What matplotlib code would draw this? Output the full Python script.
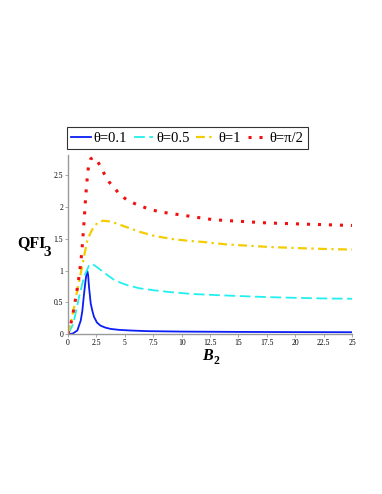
import matplotlib
matplotlib.use("Agg")
import matplotlib.pyplot as plt

# theta = 0.1 (blue, solid)
x_01 = [0, 0.4, 0.82, 1.12, 1.26, 1.41, 1.55, 1.62, 1.7, 1.77, 1.85, 2.0, 2.15, 2.29, 2.55, 2.88, 3.3, 3.76, 4.5, 5.5, 7, 10, 15, 20, 25]
y_01 = [0, 0.005, 0.055, 0.21, 0.36, 0.63, 0.85, 0.94, 0.99, 0.93, 0.74, 0.48, 0.36, 0.27, 0.18, 0.13, 0.10, 0.08, 0.065, 0.055, 0.045, 0.038, 0.033, 0.03, 0.028]

# theta = 0.5 (cyan, dashed)
x_05 = [0, 0.47, 0.97, 1.41, 1.85, 2.14, 2.58, 3.0, 3.46, 4.0, 4.6, 5.2, 6.3, 7.5, 9, 11, 13.4, 15.5, 17.8, 20, 22.5, 25]
y_05 = [0, 0.16, 0.58, 0.9, 1.08, 1.105, 1.05, 0.99, 0.93, 0.86, 0.81, 0.77, 0.72, 0.69, 0.66, 0.63, 0.61, 0.595, 0.58, 0.57, 0.56, 0.555]

# theta = 1 (gold, dash-dot)
x_1 = [0, 0.4, 0.82, 1.26, 1.5, 1.7, 1.9, 2.14, 2.58, 3.1, 3.6, 4.3, 5.2, 6.3, 7.5, 9, 10.5, 11.9, 14, 16, 17.8, 20, 22.5, 25]
y_1 = [0, 0.3, 0.69, 1.08, 1.3, 1.47, 1.56, 1.65, 1.75, 1.785, 1.775, 1.74, 1.68, 1.61, 1.55, 1.50, 1.47, 1.45, 1.41, 1.39, 1.37, 1.355, 1.34, 1.33]

# theta = pi/2 (red, dotted)
x_pi2 = [0, 0.18, 0.35, 0.5, 0.65, 0.8, 0.92, 1.02, 1.12, 1.22, 1.3, 1.37, 1.43, 1.49, 1.55, 1.63, 1.71, 1.8, 2.0, 2.25, 2.49, 2.88, 3.23, 3.64, 4.14, 4.58, 5.3, 6.05, 6.8, 7.5, 8.25, 9.0, 12.8, 17.5, 21, 25]
y_pi2 = [0, 0.12, 0.24, 0.38, 0.54, 0.70, 0.84, 0.98, 1.12, 1.30, 1.50, 1.66, 1.82, 1.98, 2.14, 2.33, 2.49, 2.63, 2.76, 2.78, 2.76, 2.63, 2.51, 2.39, 2.29, 2.19, 2.10, 2.04, 1.99, 1.95, 1.92, 1.90, 1.80, 1.75, 1.73, 1.71]

x_ticks = [0, 2.5, 5, 7.5, 10, 12.5, 15, 17.5, 20, 22.5, 25]
x_tick_labels = ["0", "2.5", "5", "7.5", "10", "12.5", "15", "17.5", "20", "22.5", "25"]
y_ticks = [0, 0.5, 1, 1.5, 2, 2.5]
y_tick_labels = ["0", "0.5", "1", "1.5", "2", "2.5"]
labels = ["θ=0.1", "θ=0.5", "θ=1", "θ=π/2"]

serif = ["Liberation Serif", "DejaVu Serif"]

fig = plt.figure(figsize=(3.82, 4.94), dpi=100)
ax = fig.add_axes([68 / 382, 1 - 334 / 494, (352 - 68) / 382, (334 - 155) / 494])

l1, = ax.plot(x_01, y_01, color="#0a1ef5", lw=1.3, solid_joinstyle="round")
l2, = ax.plot(x_05, y_05, color="#22f0f0", lw=1.3, dashes=(6, 2.5))
l3, = ax.plot(x_1, y_1, color="#f5cc00", lw=1.6, dashes=(4, 2, 1, 2))
l4, = ax.plot(x_pi2, y_pi2, color="#f01010", lw=2.2, dashes=(1, 2.6), dash_capstyle="butt")

ax.set_xlim(0, 25)
ax.set_ylim(0, 2.82)
ax.set_xticks(x_ticks)
ax.set_xticklabels(x_tick_labels)
ax.set_yticks(y_ticks)
ax.set_yticklabels(y_tick_labels)
for lab in ax.get_xticklabels() + ax.get_yticklabels():
    lab.set_fontfamily(serif)
    lab.set_fontsize(5.5)
ax.tick_params(axis="both", direction="out", length=2, width=0.6, color="#999999", pad=1.5)

for s in ["top", "right"]:
    ax.spines[s].set_visible(False)
for s in ["left", "bottom"]:
    ax.spines[s].set_color("#999999")
    ax.spines[s].set_linewidth(1.0)

leg = fig.legend([l1, l2, l3, l4], labels, loc="lower left",
                 bbox_to_anchor=(67 / 382, 1 - 149 / 494), ncol=4,
                 prop={"family": serif, "size": 10.5}, frameon=True, fancybox=False,
                 handlelength=1.35, handletextpad=0.18, columnspacing=0.45,
                 borderpad=0.3, borderaxespad=0)
leg.get_frame().set_edgecolor("black")
leg.get_frame().set_linewidth(0.8)

fig.text(31 / 382, 1 - 243 / 494, "QFI", fontfamily=serif, fontweight="bold",
         fontsize=11.5, ha="center", va="center")
fig.text(47 / 382, 1 - 253 / 494, "3", fontfamily=serif, fontweight="bold",
         fontsize=11, ha="center", va="center")
fig.text(207 / 382, 1 - 356 / 494, "B", fontfamily=serif, fontweight="bold",
         fontstyle="italic", fontsize=11.5, ha="center", va="center")
fig.text(216 / 382, 1 - 361 / 494, "2", fontfamily=serif, fontweight="bold",
         fontsize=8.5, ha="center", va="center")

fig.savefig("out.png", dpi=100)
